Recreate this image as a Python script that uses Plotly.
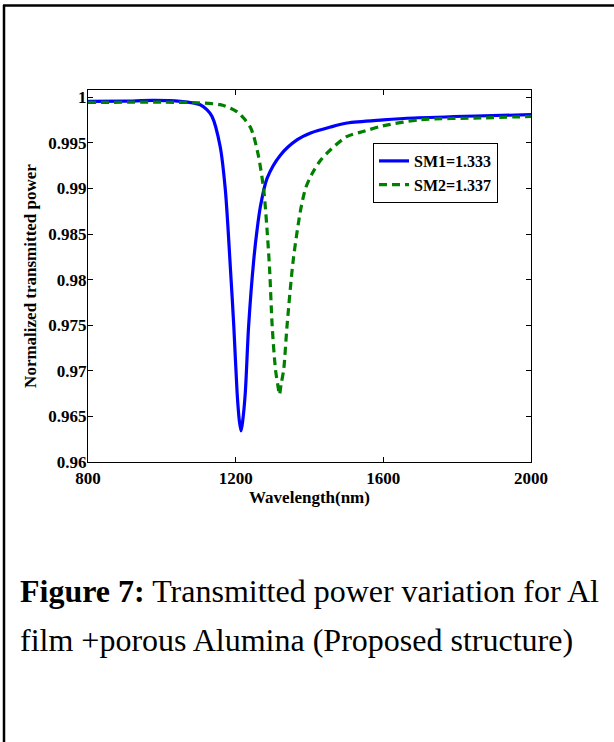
import plotly.graph_objects as go

# ---- data ----
wavelength_sm1 = [800, 900, 976, 1050, 1104, 1122, 1136, 1158, 1172, 1186, 1195, 1204, 1210,
                  1214.5, 1219, 1226, 1235, 1249, 1258, 1267, 1285, 1321, 1367,
                  1403, 1457, 1502, 1600, 1683, 1850, 2000]
power_sm1 = [0.99955, 0.99958, 0.99966, 0.99955, 0.99919, 0.99864, 0.99790, 0.99461, 0.98986,
             0.98108, 0.97485, 0.96754, 0.96450, 0.96340, 0.96450, 0.96754, 0.97485, 0.98217,
             0.98547, 0.98802, 0.99110, 0.99365, 0.99535, 0.99608, 0.99674,
             0.99718, 0.99752, 0.99773, 0.99795, 0.99809]

wavelength_sm2 = [800, 1000, 1096, 1158, 1186, 1204, 1222, 1240, 1249, 1262, 1276, 1285, 1292,
                  1299, 1308, 1314, 1318.6, 1323, 1330, 1339, 1356, 1376, 1390, 1408, 1430,
                  1457, 1502, 1550, 1593, 1701, 1864, 2000]
power_sm2 = [0.99944, 0.99946, 0.99940, 0.99919, 0.99880, 0.99840, 0.99770, 0.99670, 0.99571,
             0.99351, 0.98986, 0.98547, 0.98108, 0.97485, 0.97010, 0.96850, 0.96740, 0.96850,
             0.97010, 0.97485, 0.98217, 0.98766, 0.99010, 0.99169, 0.99310, 0.99425, 0.99571,
             0.99630, 0.99681, 0.99754, 0.99773, 0.99790]

series_names = ["SM1=1.333", "SM2=1.337"]
x_ticks = [800, 1200, 1600, 2000]
y_ticks = [0.96, 0.965, 0.97, 0.975, 0.98, 0.985, 0.99, 0.995, 1.0]
y_tick_labels = ["0.96", "0.965", "0.97", "0.975", "0.98", "0.985", "0.99", "0.995", "1"]
x_title = "Wavelength(nm)"
y_title = "Normalized transmitted power"
caption_line1 = "<b>Figure 7:</b> Transmitted power variation for Al"
caption_line2 = "film +porous Alumina (Proposed structure)"

SERIF = "Liberation Serif, Times New Roman, serif"

fig = go.Figure()
fig.add_trace(go.Scatter(
    x=wavelength_sm1, y=power_sm1, mode="lines", name=series_names[0],
    line=dict(color="#0000ff", width=3.2, shape="spline", smoothing=0.8),
))
fig.add_trace(go.Scatter(
    x=wavelength_sm2, y=power_sm2, mode="lines", name=series_names[1],
    line=dict(color="#008000", width=3.2, dash="8px,5px", shape="spline", smoothing=0.8),
))

W, H = 614, 742
L, R, T, B = 88, 83, 90, 280
pw, ph = W - L - R, H - T - B


def px(xp):
    return (xp - L) / pw


def py(yp):
    return (H - B - yp) / ph


axis_common = dict(
    showline=True, linecolor="black", linewidth=1, mirror="ticks",
    ticks="inside", ticklen=5, tickcolor="black", tickwidth=1,
    showgrid=False, zeroline=False,
    tickfont=dict(family=SERIF, size=17, color="black", weight="bold"),
)
title_font = dict(family=SERIF, size=17, color="black", weight="bold")

fig.update_layout(
    width=W, height=H,
    margin=dict(l=L, r=R, t=T, b=B),
    paper_bgcolor="white", plot_bgcolor="white",
    xaxis=dict(range=[800, 2000], tickvals=x_ticks, ticklabelstandoff=1,
               title=dict(text=x_title, standoff=3, font=title_font),
               **axis_common),
    yaxis=dict(range=[0.96, 1.0008], tickvals=y_ticks, ticktext=y_tick_labels,
               ticklabelstandoff=-3,
               title=dict(text=y_title, standoff=7, font=title_font),
               **axis_common),
    legend=dict(x=px(373), y=py(143), xanchor="left", yanchor="top",
                bordercolor="black", borderwidth=1, bgcolor="white",
                font=dict(family=SERIF, size=16, color="black", weight="bold"),
                tracegroupgap=0),
    showlegend=True,
)

fig.add_annotation(text=caption_line1, xref="paper", yref="paper", x=px(18), y=py(591),
                   xanchor="left", yanchor="middle", showarrow=False,
                   font=dict(family=SERIF, size=32, color="black"))
fig.add_annotation(text=caption_line2, xref="paper", yref="paper", x=px(18), y=py(640),
                   xanchor="left", yanchor="middle", showarrow=False,
                   font=dict(family=SERIF, size=32, color="black"))

# page frame lines
fig.add_shape(type="line", xref="paper", yref="paper", x0=px(3), x1=px(614), y0=py(5.5), y1=py(5.5),
              line=dict(color="black", width=2.5))
fig.add_shape(type="line", xref="paper", yref="paper", x0=px(4), x1=px(4), y0=py(5), y1=py(742),
              line=dict(color="black", width=2.5))

fig.write_html("out.html")
